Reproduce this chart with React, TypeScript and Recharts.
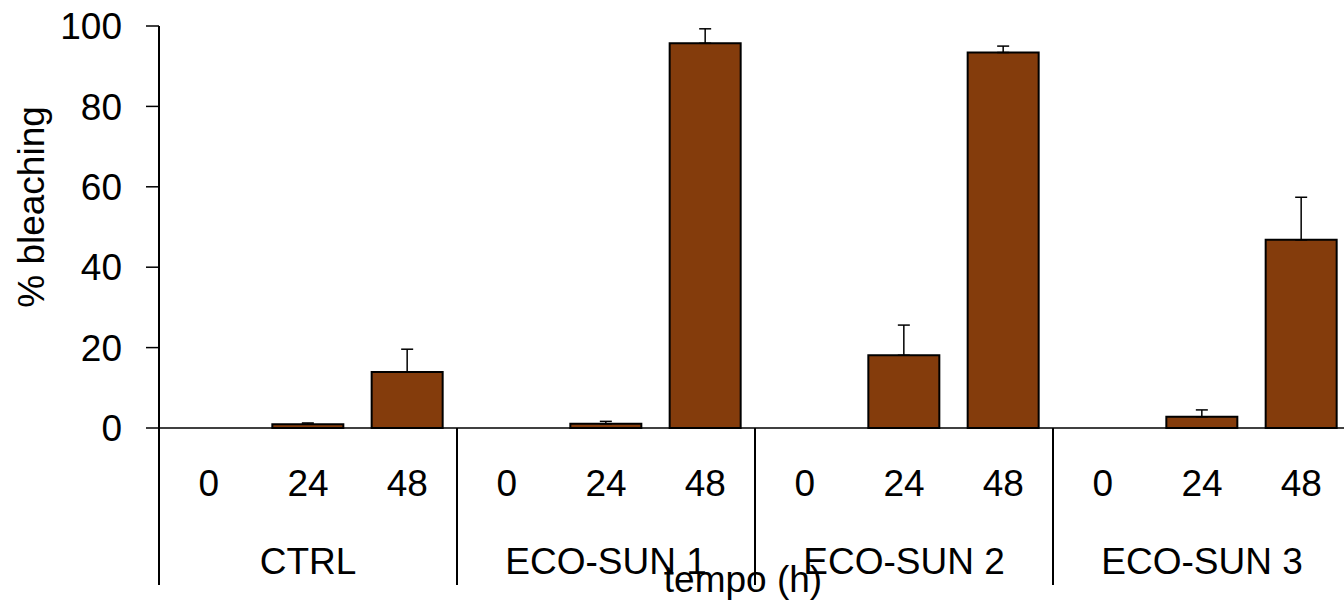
import React from 'react';
import { BarChart, Bar, XAxis, YAxis, ErrorBar } from 'recharts';

const groups = ['CTRL', 'ECO-SUN 1', 'ECO-SUN 2', 'ECO-SUN 3'];
const times = ['0', '24', '48'];
const means = [0, 0.95, 13.9, 0, 1.05, 95.7, 0, 18.1, 93.4, 0, 2.8, 46.8];
const errs = [0, 0.3, 5.7, 0, 0.6, 3.6, 0, 7.5, 1.6, 0, 1.7, 10.6];
const yTicks = [0, 20, 40, 60, 80, 100];

const data = means.map((m, i) => ({
  key: `${groups[Math.floor(i / 3)]}-${times[i % 3]}`,
  time: times[i % 3],
  group: groups[Math.floor(i / 3)],
  value: m,
  err: [0, errs[i]],
}));

const FONT = 'Liberation Sans, Arial, sans-serif';
const FS = 37;

const XTick = (props: any) => {
  const { x, y, payload, index } = props;
  const d = data[index];
  const half = payload.offset || 0;
  return (
    <g>
      <text x={x} y={y + 68} textAnchor="middle" fontSize={FS} fontFamily={FONT} fill="#000">
        {d ? d.time : ''}
      </text>
      {index % 3 === 1 && d ? (
        <text x={x} y={y + 146} textAnchor="middle" fontSize={FS} fontFamily={FONT} fill="#000">
          {d.group}
        </text>
      ) : null}
      {index % 3 === 0 ? (
        <line x1={x - half} y1={y} x2={x - half} y2={y + 157} stroke="#000" strokeWidth={2} />
      ) : null}
      {index === data.length - 1 ? (
        <line x1={x + half} y1={y} x2={x + half} y2={y + 157} stroke="#000" strokeWidth={2} />
      ) : null}
    </g>
  );
};

export default function App() {
  return (
    <div style={{ position: 'absolute', left: 0, top: 0, width: 1344, height: 600, overflow: 'hidden', background: '#fff' }}>
      <BarChart
        width={1352}
        height={600}
        data={data}
        margin={{ top: 26, right: 1, bottom: 0, left: 0 }}
      >
        <XAxis
          dataKey="key"
          interval={0}
          tickLine={false}
          tickSize={0}
          tickMargin={0}
          height={172}
          axisLine={{ stroke: '#000', strokeWidth: 1.5 }}
          tick={<XTick />}
          label={{
            content: () => (
              <text x={743} y={592} textAnchor="middle" fontSize={FS} fontFamily={FONT} fill="#000">
                tempo (h)
              </text>
            ),
          }}
        />
        <YAxis
          width={159}
          domain={[0, 100]}
          ticks={yTicks}
          interval={0}
          tickSize={13}
          tickMargin={24}
          axisLine={{ stroke: '#000', strokeWidth: 2 }}
          tickLine={{ stroke: '#000', strokeWidth: 1.5 }}
          tick={{ fontSize: FS, fontFamily: FONT, fill: '#000' }}
          label={{
            content: () => (
              <text
                x={44}
                y={207}
                transform="rotate(-90 44 207)"
                textAnchor="middle"
                fontSize={FS}
                fontFamily={FONT}
                fill="#000"
              >
                % bleaching
              </text>
            ),
          }}
        />
        <Bar dataKey="value" barSize={71} fill="#843C0C" stroke="#000" strokeWidth={2} isAnimationActive={false}>
          <ErrorBar dataKey="err" width={6} stroke="#000" strokeWidth={1.5} direction="y" isAnimationActive={false} />
        </Bar>
      </BarChart>
    </div>
  );
}
